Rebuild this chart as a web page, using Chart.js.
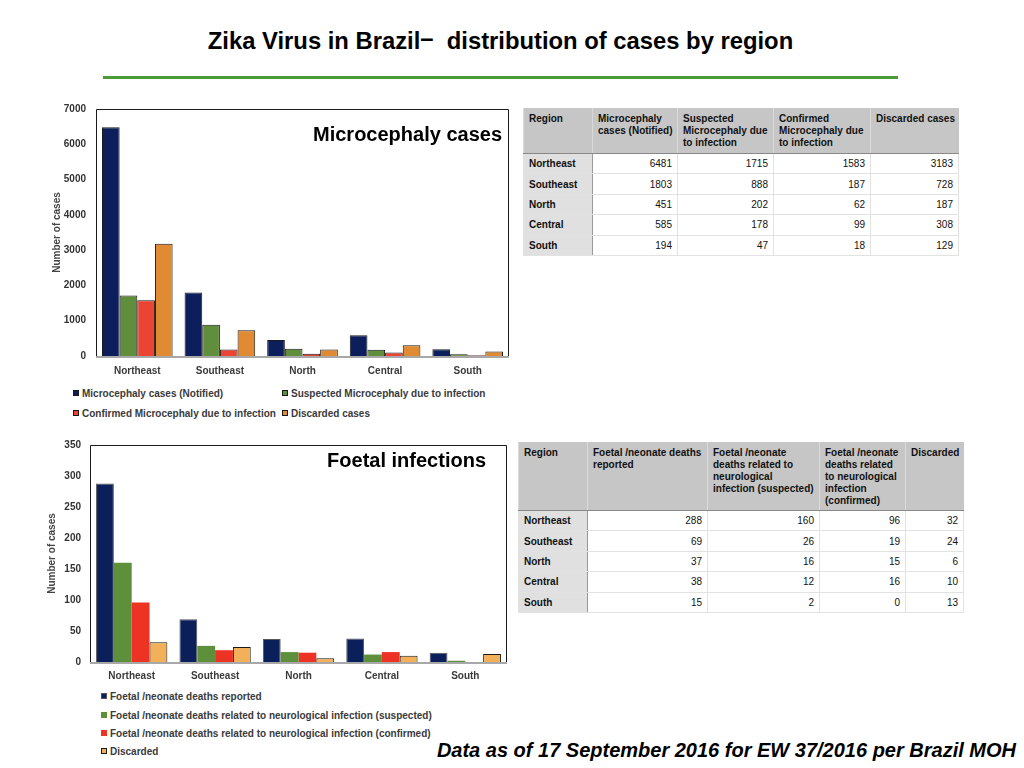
<!DOCTYPE html>
<html>
<head>
<meta charset="utf-8">
<script src="https://cdn.jsdelivr.net/npm/chart.js@4.4.1/dist/chart.umd.min.js"></script>
<style>
  body { margin: 0; width: 1024px; height: 768px; background: #fff; position: relative; overflow: hidden;
         font-family: "Liberation Sans", Arial, sans-serif; }
  .abs { position: absolute; }
  #title { left: 0; width: 1001px; top: 27px; text-align: center; font-weight: bold; font-size: 23.8px; color: #000; }
  #rule { left: 103px; top: 76px; width: 795px; height: 3px; background: #4b9a36; }
  #foot { right: 8px; top: 739px; font-weight: bold; font-style: italic; font-size: 20px; color: #000; }
  table { border-collapse: collapse; font-size: 10px; color: #111; table-layout: fixed; }
  th { background: #c6c6c6; font-weight: bold; text-align: left; vertical-align: top; padding: 5px 3px 0 5px;
       line-height: 12px; border-left: 1px solid #dadada; border-bottom: 1px solid #888; }
  td { height: 19.4px; padding: 0 5px; text-align: right; border: 1px solid #e2e2e2; }
  td.reg { background: #e0e0e0; font-weight: bold; text-align: left; border-right: 1px solid #9a9a9a; }
  .legend { font-size: 10px; font-weight: bold; color: #3a3a3a; }
  .li { position: absolute; white-space: nowrap; line-height: 12px; }
  .sw { display: inline-block; width: 6px; height: 6px; margin-right: 3px; vertical-align: 1px; box-sizing: border-box; }
</style>
</head>
<body>
<div id="title" class="abs">Zika Virus in Brazil<span style="position:relative;top:-3px">–</span>&nbsp; distribution of cases by region</div>
<div id="rule" class="abs"></div>

<div class="abs" style="left:45px;top:93px;width:470px;height:287px"><canvas id="micro"></canvas></div>
<div id="legMicro" class="abs legend" style="left:0;top:0"></div>
<div class="abs" style="left:523px;top:108px"><table id="tabMicro"></table></div>

<div class="abs" style="left:40px;top:430px;width:472px;height:256px"><canvas id="foetal"></canvas></div>
<div id="legFoetal" class="abs legend" style="left:0;top:0"></div>
<div class="abs" style="left:518px;top:442px"><table id="tabFoetal"></table></div>

<div id="foot" class="abs">Data as of 17 September 2016 for EW 37/2016 per Brazil MOH</div>

<script>
// ---- data ----
const regions = ['Northeast', 'Southeast', 'North', 'Central', 'South'];

const microSeries = [
  'Microcephaly cases (Notified)',
  'Suspected Microcephaly due to infection',
  'Confirmed Microcephaly due to infection',
  'Discarded cases',
];
const microNotified  = [6481, 1803, 451, 585, 194];
const microSuspected = [1715, 888, 202, 178, 47];
const microConfirmed = [1583, 187, 62, 99, 18];
const microDiscarded = [3183, 728, 187, 308, 129];
const microTicks = [0, 1000, 2000, 3000, 4000, 5000, 6000, 7000];
const microHeaders = ['Region', 'Microcephaly cases (Notified)', 'Suspected Microcephaly due to infection',
                      'Confirmed Microcephaly due to infection', 'Discarded cases'];

const foetalSeries = [
  'Foetal /neonate deaths reported',
  'Foetal /neonate deaths related to neurological infection (suspected)',
  'Foetal /neonate deaths related to neurological infection (confirmed)',
  'Discarded',
];
const foetalReported  = [288, 69, 37, 38, 15];
const foetalSuspected = [160, 26, 16, 12, 2];
const foetalConfirmed = [96, 19, 15, 16, 0];
const foetalDiscarded = [32, 24, 6, 10, 13];
const foetalTicks = [0, 50, 100, 150, 200, 250, 300, 350];
const foetalHeaders = ['Region', 'Foetal /neonate deaths reported',
                       'Foetal /neonate deaths related to neurological infection (suspected)',
                       'Foetal /neonate deaths related to neurological infection (confirmed)', 'Discarded'];

const FONT = '"Liberation Sans", Arial, sans-serif';

// box around plot area + caption in the top-right corner
const framePlugin = {
  id: 'frame',
  afterDraw(chart, args, opts) {
    const { ctx, chartArea: a } = chart;
    ctx.save();
    ctx.strokeStyle = '#1a1a1a';
    ctx.lineWidth = 1;
    ctx.beginPath();
    ctx.moveTo(a.left + 0.5, a.bottom);
    ctx.lineTo(a.left + 0.5, a.top + 0.5);
    ctx.lineTo(a.right - 0.5, a.top + 0.5);
    ctx.lineTo(a.right - 0.5, a.bottom);
    ctx.stroke();
    ctx.strokeStyle = '#a8a8a8';
    ctx.lineWidth = 2;
    ctx.beginPath();
    ctx.moveTo(a.left, a.bottom + 1);
    ctx.lineTo(a.right, a.bottom + 1);
    ctx.stroke();
    ctx.fillStyle = '#000';
    ctx.font = 'bold 20px ' + FONT;
    ctx.textAlign = 'right';
    ctx.textBaseline = 'alphabetic';
    ctx.fillText(opts.text, a.right - opts.dx, a.top + opts.dy);
    ctx.restore();
  },
};

function makeChart(id, series, values, colors, borders, ticks, cfg) {
  const datasets = series.map((label, i) => ({
    label,
    data: values[i],
    backgroundColor: colors[i],
    borderColor: borders[i],
    borderWidth: borders[i] ? 1 : 0,
    categoryPercentage: 0.855,
    barPercentage: 1.0,
  }));
  return new Chart(document.getElementById(id), {
    type: 'bar',
    data: { labels: regions, datasets },
    options: {
      responsive: true,
      maintainAspectRatio: false,
      animation: false,
      layout: { padding: { top: 1, right: cfg.padRight, left: 0, bottom: 0 } },
      plugins: {
        legend: { display: false },
        tooltip: { enabled: false },
        frame: { text: cfg.caption, dx: cfg.capDx, dy: cfg.capDy },
      },
      scales: {
        x: {
          grid: { display: false, drawTicks: false },
          border: { display: false },
          ticks: { color: '#3a3a3a', font: { family: FONT, size: 10, weight: 'bold' }, padding: cfg.xPad },
          afterFit: (s) => { s.height = 24; },
        },
        y: {
          min: 0,
          max: ticks[ticks.length - 1],
          grid: { display: false, drawTicks: false },
          border: { display: false },
          afterBuildTicks: (s) => { s.ticks = ticks.map(v => ({ value: v })); },
          ticks: {
            color: '#333', font: { family: FONT, size: 10, weight: 'bold' }, padding: cfg.yPad,
            callback: (v) => String(v),
          },
          title: {
            display: true, text: 'Number of cases', color: '#444',
            font: { family: FONT, size: 10, weight: 'bold' }, padding: { top: 6, bottom: 0 },
          },
          afterFit: (s) => { s.width = cfg.yWidth; },
        },
      },
    },
    plugins: [framePlugin],
  });
}

function buildLegend(elId, chart, positions) {
  const el = document.getElementById(elId);
  chart.data.datasets.forEach((ds, i) => {
    const item = document.createElement('div');
    item.className = 'li';
    item.style.left = positions[i][0] + 'px';
    item.style.top = (positions[i][1] - 5) + 'px';
    const sw = document.createElement('span');
    sw.className = 'sw';
    sw.style.background = ds.backgroundColor;
    sw.style.border = '1px solid ' + (ds.borderColor || ds.backgroundColor);
    item.appendChild(sw);
    item.appendChild(document.createTextNode(ds.label));
    el.appendChild(item);
  });
}

function buildTable(elId, headers, widths, headH, cols) {
  const t = document.getElementById(elId);
  const cg = document.createElement('colgroup');
  widths.forEach(w => { const c = document.createElement('col'); c.style.width = w + 'px'; cg.appendChild(c); });
  t.appendChild(cg);
  t.style.width = widths.reduce((a, b) => a + b, 0) + 'px';
  const hr = document.createElement('tr');
  headers.forEach(h => { const th = document.createElement('th'); th.textContent = h; th.style.height = (headH - 5) + 'px'; hr.appendChild(th); });
  t.appendChild(hr);
  regions.forEach((r, ri) => {
    const tr = document.createElement('tr');
    const td0 = document.createElement('td'); td0.className = 'reg'; td0.textContent = r; tr.appendChild(td0);
    cols.forEach(c => { const td = document.createElement('td'); td.textContent = c[ri]; tr.appendChild(td); });
    t.appendChild(tr);
  });
}

const micro = makeChart('micro', microSeries,
  [microNotified, microSuspected, microConfirmed, microDiscarded],
  ['#0c1f5c', '#618e3c', '#ec4333', '#e08b33'],
  ['#1a1a1a', '#1a1a1a', '#1a1a1a', '#1a1a1a'],
  microTicks,
  { caption: 'Microcephaly cases', capDx: 7, capDy: 32, padRight: 6, yWidth: 51, yPad: 10, xPad: 9 });

const foetal = makeChart('foetal', foetalSeries,
  [foetalReported, foetalSuspected, foetalConfirmed, foetalDiscarded],
  ['#0b1f5a', '#5e8f3b', '#ec3324', '#f2b05a'],
  ['#555555', null, null, '#1a1a1a'],
  foetalTicks,
  { caption: 'Foetal infections', capDx: 21, capDy: 22, padRight: 5, yWidth: 50, yPad: 9, xPad: 8 });

buildLegend('legMicro', micro, [[73, 393], [282, 393], [73, 413], [282, 413]]);
buildLegend('legFoetal', foetal, [[101, 696], [101, 715], [101, 733], [101, 751]]);

buildTable('tabMicro', microHeaders, [69, 85, 96, 97, 88], 45,
  [microNotified, microSuspected, microConfirmed, microDiscarded]);
buildTable('tabFoetal', foetalHeaders, [69, 120, 112, 86, 58], 68,
  [foetalReported, foetalSuspected, foetalConfirmed, foetalDiscarded]);
</script>
</body>
</html>
